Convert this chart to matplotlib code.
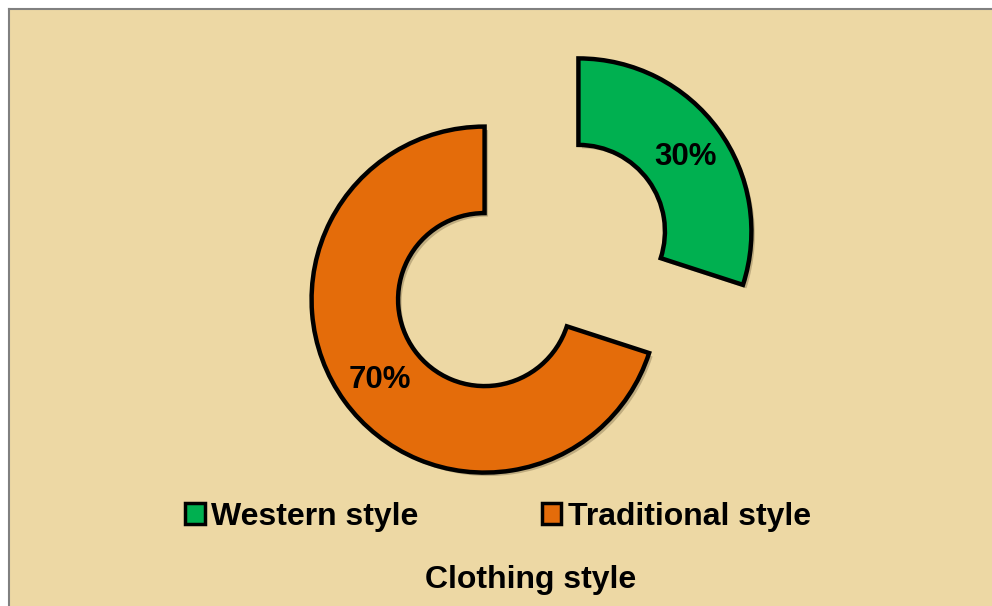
import matplotlib.pyplot as plt
import matplotlib.patheffects as pe
from matplotlib.patches import Rectangle

plt.rcParams['font.family'] = ['Liberation Sans', 'DejaVu Sans']

# data
labels = ['Western style', 'Traditional style']
shares = [30, 70]
colors = ['#00B050', '#E46C0A']
title = 'Clothing style'

W, H = 992, 606
fig = plt.figure(figsize=(W / 100, H / 100), dpi=100)
fig.patch.set_facecolor('white')
ax = fig.add_axes([0, 0, 1, 1])

# papyrus-like panel with grey frame on top/left
ax.add_patch(Rectangle((9, 0), W - 9, H - 9, facecolor='#EDD8A4',
                       edgecolor='none', zorder=0))
ax.plot([8.5, 8.5], [0, H - 8.5], color='#808080', lw=1.5, zorder=1)
ax.plot([8.5, W], [H - 8.5, H - 8.5], color='#808080', lw=1.5, zorder=1)

# donut, both slices pulled apart (explode is in data units here)
r = 173
wedges, texts = ax.pie(shares, colors=colors, radius=r, center=(531.5, 340.5),
                       startangle=90, counterclock=False,
                       explode=[58, 58],
                       wedgeprops=dict(width=r * 0.5, edgecolor='black',
                                       linewidth=3.2, joinstyle='miter'),
                       frame=True)
for w in wedges:
    w.set_path_effects([pe.SimplePatchShadow(offset=(2.5, -2.5),
                                             shadow_rgbFace='#6b5a3a', alpha=0.35),
                        pe.Normal()])
ax.set_xlim(0, W)
ax.set_ylim(0, H)
ax.set_aspect('equal')
ax.axis('off')

# percentage labels
ax.text(686, H - 157, '30%', ha='center', va='center', fontsize=22.5,
        fontweight='bold')
ax.text(380, H - 380, '70%', ha='center', va='center', fontsize=22.5,
        fontweight='bold')

leg = fig.legend(wedges, labels, loc='center', bbox_to_anchor=(498 / W, 1 - 517 / H),
                 ncol=2, frameon=False,
                 prop=dict(weight='bold', size=23),
                 handlelength=0.62, handleheight=0.62, handletextpad=0.2,
                 columnspacing=3.85)
for h in leg.legend_handles:
    h.set_linewidth(2.5)
    h.set_edgecolor('black')
    h.set_path_effects([])

fig.text(531 / W, 1 - 580 / H, title, ha='center', va='center',
         fontsize=23, fontweight='bold')

fig.savefig('out.png', dpi=100)
